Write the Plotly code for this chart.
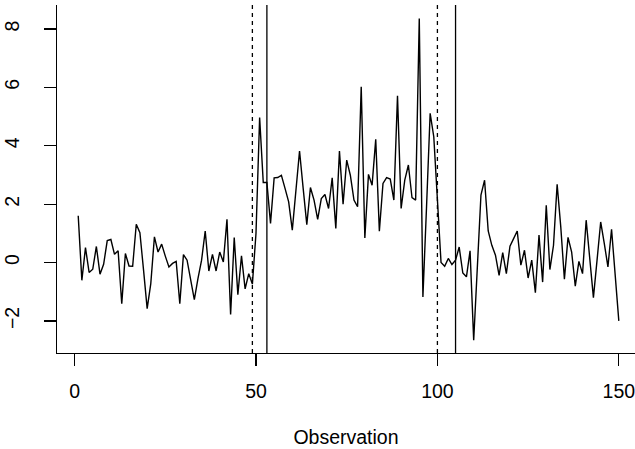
import plotly.graph_objects as go

observation = list(range(1, 151))
values = [
    1.60, -0.61, 0.51, -0.34, -0.23, 0.55, -0.40, -0.06, 0.75, 0.79,
    0.28, 0.40, -1.41, 0.31, -0.12, -0.13, 1.31, 1.02, -0.25, -1.58,
    -0.72, 0.88, 0.36, 0.63, 0.22, -0.15, -0.03, 0.04, -1.41, 0.27,
    0.08, -0.61, -1.27, -0.55, 0.08, 1.08, -0.29, 0.28, -0.29, 0.36,
    0.02, 1.48, -1.78, 0.86, -1.10, 0.23, -0.90, -0.38, -0.74, 1.00,
    4.97, 2.74, 2.74, 1.34, 2.90, 2.91, 2.99, 2.54, 2.08, 1.11,
    2.48, 3.82, 2.54, 1.30, 2.57, 2.14, 1.48, 2.19, 2.33, 1.85,
    2.90, 1.17, 3.82, 2.00, 3.51, 2.99, 2.14, 1.91, 6.02, 0.84,
    3.02, 2.65, 4.22, 1.07, 2.71, 2.91, 2.86, 2.14, 5.71, 1.85,
    2.82, 3.34, 2.22, 2.14, 8.36, -1.18, 1.90, 5.11, 4.31, 2.00,
    0.00, -0.13, 0.14, -0.07, 0.08, 0.53, -0.36, -0.49, 0.40, -2.66,
    -0.20, 2.31, 2.82, 1.08, 0.59, 0.25, -0.44, 0.34, -0.38, 0.56,
    0.82, 1.08, -0.09, 0.42, -0.53, 0.08, -1.03, 0.94, -0.67, 1.96,
    -0.24, 0.59, 2.68, 1.22, -0.57, 0.86, 0.36, -0.81, 0.04, -0.38,
    1.45, 0.10, -1.20, 0.08, 1.39, 0.65, -0.15, 1.14, -0.38, -2.00,
]
dashed_lines = [49, 100]
solid_lines = [53, 105]
x_ticks = [0, 50, 100, 150]
y_ticks = [-2, 0, 2, 4, 6, 8]
y_tick_text = ["\u22122", "0", "2", "4", "6", "8"]

font_family = "Liberation Sans, Arial, sans-serif"

fig = go.Figure()
fig.add_trace(go.Scatter(x=observation, y=values, mode="lines",
                         line=dict(color="black", width=1.4),
                         showlegend=False, hoverinfo="skip"))

for xv in dashed_lines:
    fig.add_shape(type="line", xref="x", yref="paper", x0=xv, x1=xv, y0=0, y1=1,
                  line=dict(color="black", width=1.3, dash="4px,4px"))
for xv in solid_lines:
    fig.add_shape(type="line", xref="x", yref="paper", x0=xv, x1=xv, y0=0, y1=1,
                  line=dict(color="black", width=1.3))

fig.update_layout(
    width=635, height=449,
    margin=dict(l=57, r=0, t=5, b=96, pad=0),
    plot_bgcolor="white", paper_bgcolor="white",
    font=dict(family=font_family, size=19.5, color="black"),
    hovermode=False,
    xaxis=dict(range=[-4.85, 154.46], tickvals=x_ticks, ticks="outside",
               ticklen=12, tickwidth=1.2, tickcolor="black",
               showline=True, linecolor="black", linewidth=1.3,
               showgrid=False, zeroline=False, mirror=False,
               automargin=False, ticklabelstandoff=8,
               ticklabeloverflow="allow",
               title=dict(text="Observation", standoff=29,
                          font=dict(size=19.5))),
    yaxis=dict(range=[-3.099, 8.821], tickvals=y_ticks, ticktext=y_tick_text,
               ticks="outside",
               ticklen=12, tickwidth=1.2, tickcolor="black",
               showline=True, linecolor="black", linewidth=1.3,
               showgrid=False, zeroline=False, mirror=False,
               automargin=False, tickangle=-90, ticklabelstandoff=17,
               ticklabeloverflow="allow"),
)

fig.write_html("out.html",
               config={"displayModeBar": False, "staticPlot": True},
               post_script="document.body.style.margin='0';document.body.style.padding='0';")
